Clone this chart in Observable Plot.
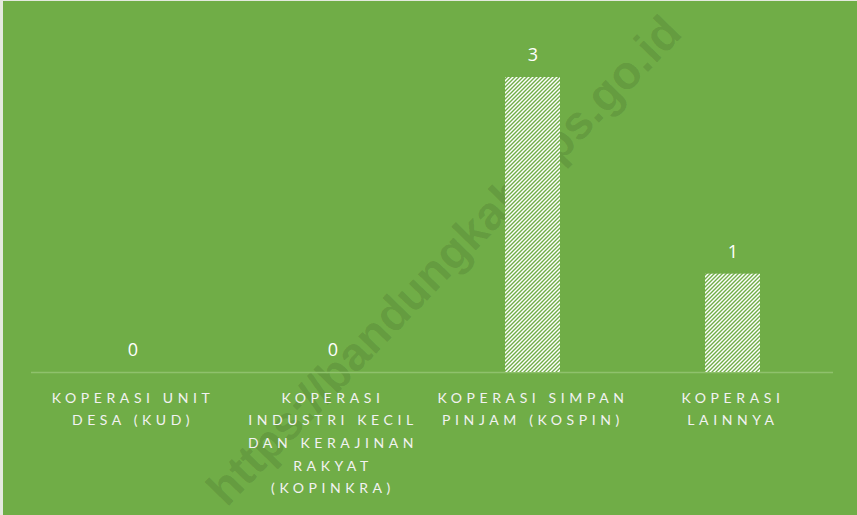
<!DOCTYPE html>
<html>
<head>
<meta charset="utf-8">
<script src="https://cdn.jsdelivr.net/npm/d3@7"></script>
<script src="https://cdn.jsdelivr.net/npm/@observablehq/plot@0.6"></script>
<style>
  html, body { margin: 0; padding: 0; background: #70AD47; }
  #wrap { position: relative; width: 857px; height: 515px; overflow: hidden; }
  #edgeL { position: absolute; left: 0; top: 0; width: 3px; height: 515px; background: #e4e9df; }
  #edgeT { position: absolute; left: 0; top: 0; width: 857px; height: 1px; background: #e4e9df; }
</style>
</head>
<body>
<div id="wrap"><div id="chart"></div><div id="edgeL"></div><div id="edgeT"></div></div>
<script>
const categories = [
  "KOPERASI UNIT DESA (KUD)",
  "KOPERASI INDUSTRI KECIL DAN KERAJINAN RAKYAT (KOPINKRA)",
  "KOPERASI SIMPAN PINJAM (KOSPIN)",
  "KOPERASI LAINNYA"
];
const tickLabels = [
  "KOPERASI UNIT\nDESA (KUD)",
  "KOPERASI\nINDUSTRI KECIL\nDAN KERAJINAN\nRAKYAT\n(KOPINKRA)",
  "KOPERASI SIMPAN\nPINJAM (KOSPIN)",
  "KOPERASI\nLAINNYA"
];
const values = [0, 0, 3, 1];
const watermark = ["https://bandungkab.bps.go.id"];

const data = categories.map((c, i) => ({cat: c, label: tickLabels[i], value: values[i]}));

const plot = Plot.plot({
  width: 857,
  height: 515,
  marginLeft: 31,
  marginRight: 24,
  marginTop: 77,
  marginBottom: 143,
  style: {background: "transparent", fontFamily: "'Open Sans', sans-serif"},
  x: {domain: categories, paddingInner: 0.726, paddingOuter: 0.363, axis: null},
  y: {domain: [0, 3], axis: null},
  marks: [
    Plot.text(watermark, {
      frameAnchor: "middle", text: d => d, rotate: -46, dx: 12, dy: 36,
      fontSize: 47, fontWeight: "bold", fill: "#000", fillOpacity: 0.11,
      fontFamily: "'Liberation Sans', Arial, sans-serif"
    }),
    Plot.ruleY([0], {stroke: "#8FC16C", strokeWidth: 1.5}),
    Plot.barY(data, {x: "cat", y: "value", fill: "url(#hatch)"}),
    Plot.text(data, {x: "cat", y: "value", text: d => String(d.value), dy: -22, fontSize: 18, fill: "#ffffff"}),
    Plot.text(data, {
      x: "cat", y: () => 0, text: "label", lineAnchor: "top", dy: 14,
      lineHeight: 1.62, fontSize: 14, fill: "#F2F2F2", fontFamily: "Lato, sans-serif"
    })
  ]
});

d3.select(plot).selectAll("g")
  .filter(function() { return this.getAttribute("fill") === "#F2F2F2"; })
  .style("letter-spacing", "4.6px");

const defs = d3.select(plot).insert("defs", ":first-child");
const pat = defs.append("pattern")
  .attr("id", "hatch").attr("patternUnits", "userSpaceOnUse")
  .attr("width", 4).attr("height", 4);
pat.append("rect").attr("width", 4).attr("height", 4).attr("fill", "#ffffff");
pat.append("path").attr("d", "M-1,1 L1,-1 M0,4 L4,0 M3,5 L5,3")
  .attr("stroke", "#70AD47").attr("stroke-width", 1.4);

document.getElementById("chart").appendChild(plot);
</script>
</body>
</html>
